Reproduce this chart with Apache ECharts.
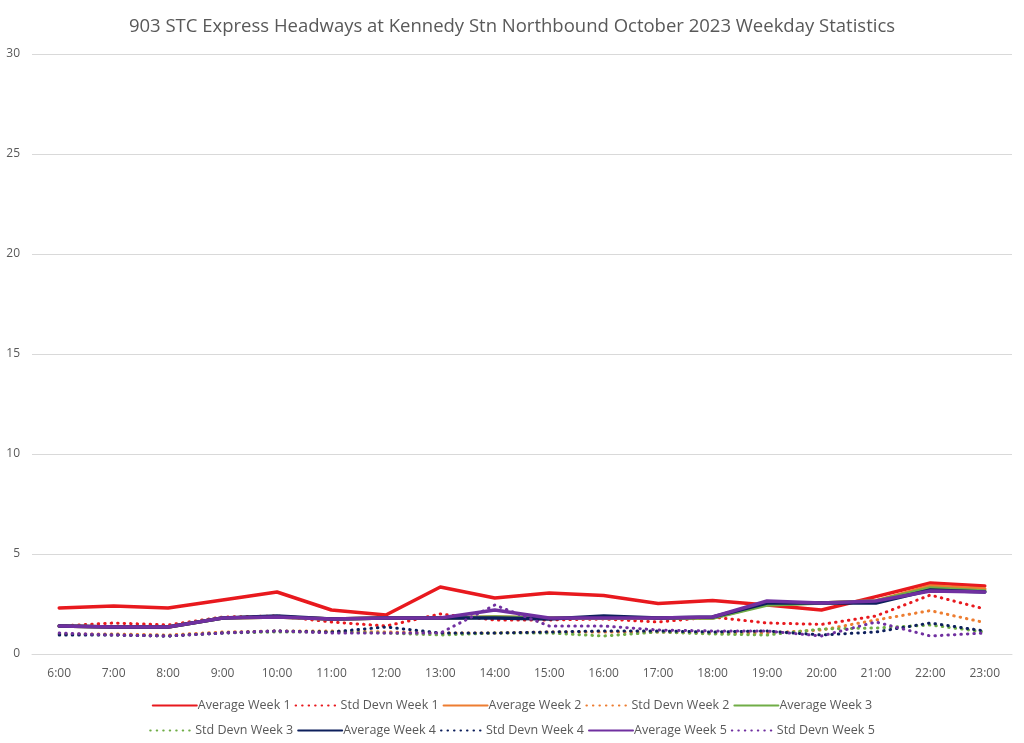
<!DOCTYPE html>
<html><head><meta charset="utf-8">
<script src="https://cdn.jsdelivr.net/npm/echarts@6/dist/echarts.min.js"></script>
<style>html,body{margin:0;padding:0;background:#fff}#c{width:1024px;height:743px}</style>
</head><body><div id="c"></div>
<script>
const categories = ['6:00','7:00','8:00','9:00','10:00','11:00','12:00','13:00','14:00','15:00','16:00','17:00','18:00','19:00','20:00','21:00','22:00','23:00'];
const avgWeek1 = [2.3,2.4,2.3,2.7,3.1,2.2,1.95,3.35,2.8,3.05,2.93,2.53,2.67,2.45,2.2,2.87,3.55,3.4];
const stdWeek1 = [1.4,1.55,1.45,1.85,1.9,1.6,1.4,2.0,1.7,1.7,1.75,1.6,1.85,1.55,1.48,1.9,2.95,2.25];
const avgWeek2 = [1.4,1.35,1.35,1.8,1.85,1.75,1.8,1.8,1.85,1.8,1.8,1.8,1.8,2.5,2.55,2.65,3.4,3.25];
const stdWeek2 = [1.0,1.0,0.95,1.1,1.15,1.15,1.1,1.05,1.05,1.1,1.1,1.1,1.05,1.05,1.2,1.7,2.17,1.57];
const avgWeek3 = [1.4,1.35,1.35,1.8,1.85,1.75,1.8,1.8,1.85,1.8,1.8,1.8,1.8,2.45,2.55,2.65,3.3,3.15];
const stdWeek3 = [1.0,0.95,0.9,1.05,1.1,1.1,1.05,0.95,1.05,1.05,0.9,1.1,1.0,0.95,1.25,1.3,1.45,1.1];
const avgWeek4 = [1.4,1.35,1.35,1.8,1.9,1.75,1.8,1.8,1.8,1.75,1.9,1.8,1.85,2.55,2.55,2.55,3.2,3.1];
const stdWeek4 = [0.95,0.95,0.9,1.05,1.15,1.1,1.35,1.05,1.05,1.1,1.15,1.15,1.1,1.15,0.95,1.1,1.55,1.15];
const avgWeek5 = [1.4,1.35,1.35,1.8,1.85,1.75,1.8,1.8,2.2,1.8,1.8,1.8,1.85,2.65,2.55,2.65,3.15,3.1];
const stdWeek5 = [1.05,0.95,0.9,1.05,1.15,1.05,1.05,1.05,2.45,1.4,1.4,1.2,1.15,1.15,0.9,1.6,0.9,1.05];
const seriesNames = ['Average Week 1','Std Devn Week 1','Average Week 2','Std Devn Week 2','Average Week 3','Std Devn Week 3','Average Week 4','Std Devn Week 4','Average Week 5','Std Devn Week 5'];
const seriesData = [avgWeek1,stdWeek1,avgWeek2,stdWeek2,avgWeek3,stdWeek3,avgWeek4,stdWeek4,avgWeek5,stdWeek5];
const colors = ['#E8191E','#E8191E','#ED7D31','#ED7D31','#70AD47','#70AD47','#0D1F5C','#0D1F5C','#7030A0','#7030A0'];

const chart = echarts.init(document.getElementById('c'));
const font = '"Liberation Sans Narrow","Open Sans",sans-serif';
const legendCommon = {left:'center',itemWidth:44,itemHeight:10,itemGap:4,
  itemStyle:{color:'rgba(0,0,0,0)',borderWidth:0},
  textStyle:{fontSize:12.5,color:'#595959',fontFamily:font,padding:[0,0,0,-4]}};
chart.setOption({
  animation:false,
  title:{text:'903 STC Express Headways at Kennedy Stn Northbound October 2023 Weekday Statistics',left:'center',top:12,
    textStyle:{fontSize:18.5,fontWeight:'normal',color:'#595959',fontFamily:'"Open Sans",sans-serif'}},
  grid:{left:32,right:12,top:54,bottom:89},
  legend:[
    Object.assign({data:seriesNames.slice(0,5),top:694},legendCommon),
    Object.assign({data:seriesNames.slice(5),top:719},legendCommon)
  ],
  xAxis:{type:'category',data:categories,boundaryGap:true,
    axisLine:{lineStyle:{color:'#d9d9d9'}},axisTick:{show:false},
    axisLabel:{color:'#595959',fontSize:12,margin:14,fontFamily:'"Open Sans",sans-serif'}},
  yAxis:{type:'value',min:0,max:30,interval:5,
    axisLine:{show:false},axisTick:{show:false},
    splitLine:{lineStyle:{color:'#d9d9d9'}},
    axisLabel:{color:'#595959',fontSize:12,margin:12,fontFamily:'"Open Sans",sans-serif'}},
  series:seriesNames.map((n,i)=>{
    const dotted = i%2===1;
    return {name:n,type:'line',data:seriesData[i],symbol:'none',color:colors[i],
      lineStyle:dotted?{width:3,color:colors[i],type:[0.5,6],cap:'round'}:{width:3.5,color:colors[i],cap:'round',join:'round'}};
  })
});
</script></body></html>
